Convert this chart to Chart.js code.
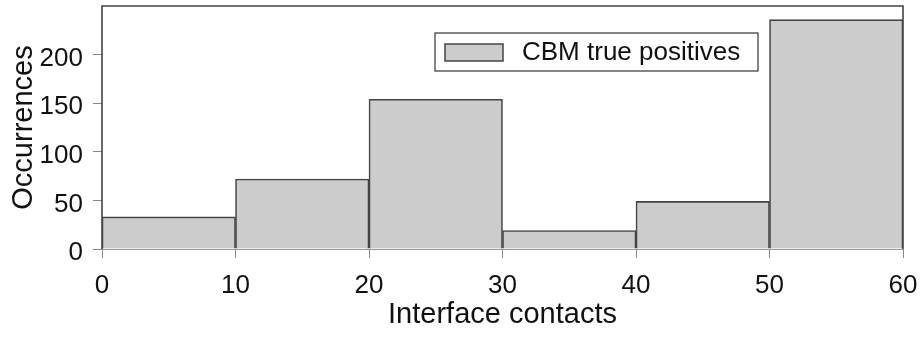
<!DOCTYPE html>
<html>
<head>
<meta charset="utf-8">
<script src="https://cdn.jsdelivr.net/npm/chart.js@4.4.1/dist/chart.umd.min.js"></script>
<style>
  html, body { margin: 0; padding: 0; background: #fff; }
  #wrap { width: 921px; height: 337px; position: relative; }
</style>
</head>
<body>
<div id="wrap"><canvas id="c" width="921" height="337"></canvas></div>
<script>
// Histogram bins (Interface contacts) and counts
const binStarts = [0, 10, 20, 30, 40, 50];
const binWidth = 10;
const counts = [33, 72, 154, 19, 49, 236];
const xTicks = [0, 10, 20, 30, 40, 50, 60];
const yTicks = [0, 50, 100, 150, 200];
const seriesLabel = 'CBM true positives';
const xTitle = 'Interface contacts';
const yTitle = 'Occurrences';

const FONT = "'Liberation Sans', Arial, sans-serif";
const points = binStarts.map((s, i) => ({ x: s + binWidth / 2, y: counts[i] }));

const framePlugin = {
  id: 'frameAndLegend',
  afterDatasetsDraw(chart) {
    const { ctx, chartArea: a } = chart;
    ctx.save();
    // bottom baseline (light)
    ctx.strokeStyle = '#999';
    ctx.lineWidth = 1;
    ctx.beginPath();
    ctx.moveTo(a.left, a.bottom + 0.5);
    ctx.lineTo(a.right, a.bottom + 0.5);
    ctx.stroke();
    // plot frame: left, top, right
    ctx.strokeStyle = '#444';
    ctx.lineWidth = 1.6;
    ctx.beginPath();
    ctx.moveTo(a.left, a.bottom);
    ctx.lineTo(a.left, a.top);
    ctx.lineTo(a.right, a.top);
    ctx.lineTo(a.right, a.bottom);
    ctx.stroke();
    // legend box
    const lx = a.left + 333, ly = a.top + 27, lw = 323, lh = 38;
    ctx.fillStyle = '#fff';
    ctx.fillRect(lx, ly, lw, lh);
    ctx.lineWidth = 1.2;
    ctx.strokeStyle = '#333';
    ctx.strokeRect(lx, ly, lw, lh);
    // swatch
    ctx.fillStyle = '#cccccc';
    ctx.fillRect(lx + 10, ly + 11, 58, 17);
    ctx.lineWidth = 1.5;
    ctx.strokeStyle = '#444';
    ctx.strokeRect(lx + 10, ly + 11, 58, 17);
    // label
    ctx.fillStyle = '#111';
    ctx.font = '26px ' + FONT;
    ctx.textAlign = 'left';
    ctx.textBaseline = 'middle';
    ctx.fillText(chart.data.datasets[0].label, lx + 87, ly + 20);
    ctx.restore();
  }
};

new Chart(document.getElementById('c'), {
  type: 'bar',
  data: {
    datasets: [{
      label: seriesLabel,
      data: points,
      backgroundColor: '#cccccc',
      borderColor: '#444',
      borderWidth: 1.6,
      borderSkipped: 'start',
      barPercentage: 1,
      categoryPercentage: 1
    }]
  },
  options: {
    responsive: false,
    animation: false,
    layout: { padding: { top: 6, right: 18, left: 0, bottom: 0 } },
    plugins: { legend: { display: false }, tooltip: { enabled: false } },
    scales: {
      x: {
        type: 'linear',
        min: 0, max: 60,
        offset: false,
        afterFit(s) { s.height = 88; s.paddingLeft = 0; s.paddingRight = 0; },
        afterBuildTicks(s) { s.ticks = xTicks.map(v => ({ value: v })); },
        grid: { display: true, drawOnChartArea: false, drawTicks: true, tickLength: 9, color: '#888', lineWidth: 1, offset: false },
        border: { display: false },
        ticks: { color: '#111', font: { family: FONT, size: 26 }, padding: 12, maxRotation: 0, autoSkip: false },
        title: { display: true, text: xTitle, color: '#111', font: { family: FONT, size: 29 }, padding: { top: 0, bottom: 5 } }
      },
      y: {
        min: 0, max: 250,
        afterFit(s) { s.width = 102; s.paddingTop = 0; s.paddingBottom = 0; },
        afterBuildTicks(s) { s.ticks = yTicks.map(v => ({ value: v })); },
        grid: { display: true, drawOnChartArea: false, drawTicks: true, tickLength: 9, color: '#888', lineWidth: 1 },
        border: { display: false },
        ticks: { color: '#111', font: { family: FONT, size: 26 }, padding: 10, labelOffset: 4, autoSkip: false },
        title: { display: true, text: yTitle, color: '#111', font: { family: FONT, size: 29 }, padding: { top: 7, bottom: 0 } }
      }
    }
  },
  plugins: [framePlugin]
});
</script>
</body>
</html>
